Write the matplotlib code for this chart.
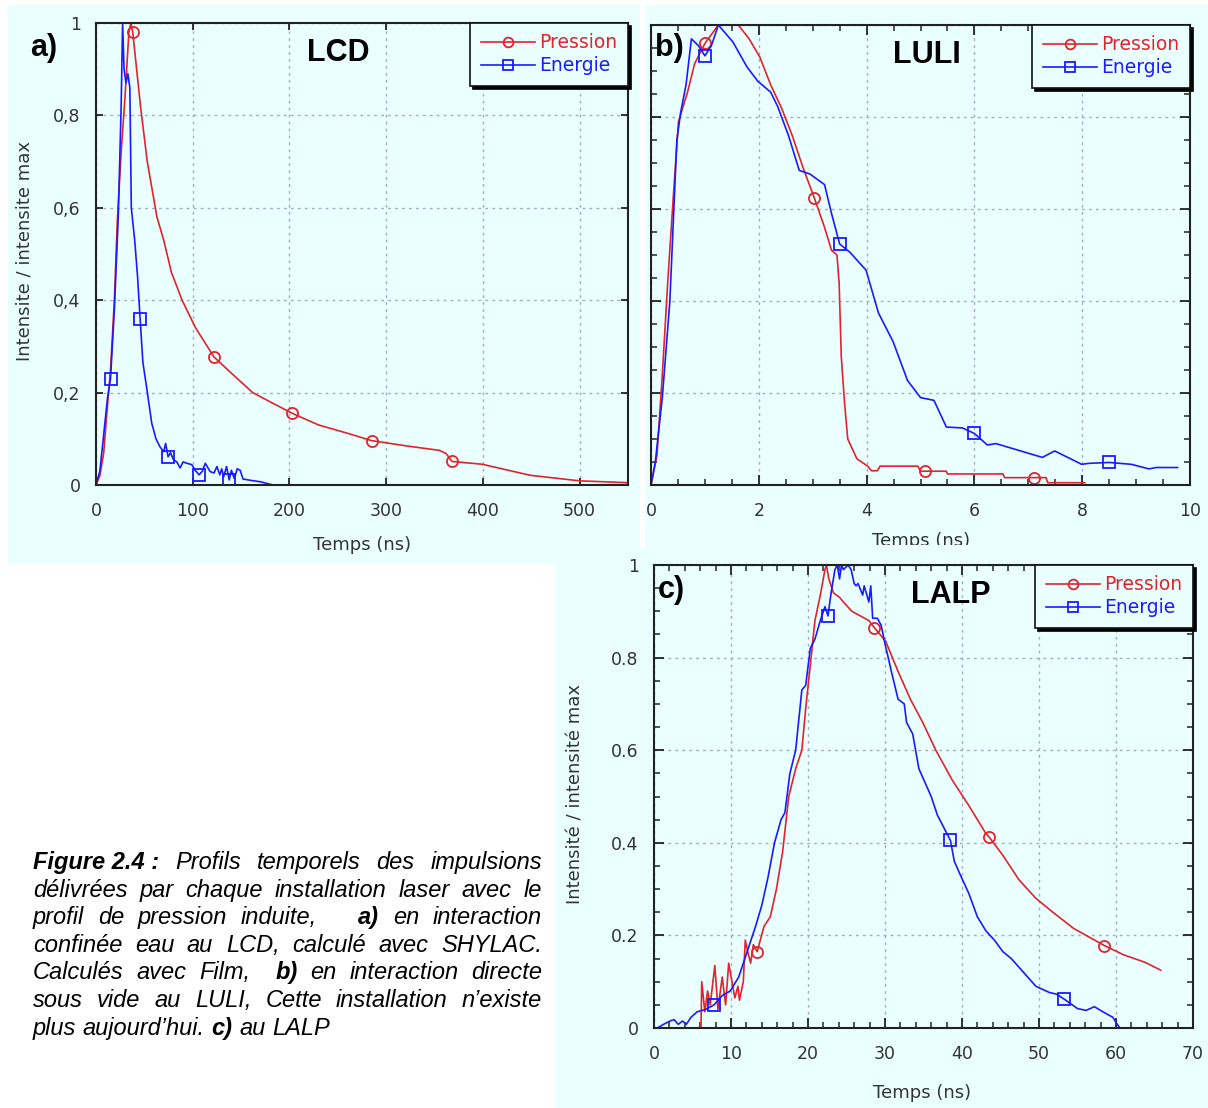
import re
import numpy as np
import matplotlib
matplotlib.use('Agg')
import matplotlib.pyplot as plt
from matplotlib.patches import Rectangle
from matplotlib.ticker import MultipleLocator, FuncFormatter
from matplotlib.transforms import Bbox, TransformedBbox

# ---- data ----
# a) LCD
a_p_t = [0, 4, 8, 11, 15, 19, 22, 26, 30, 34, 36, 38, 42, 46, 53, 63, 70, 78, 89, 103,
         122, 141, 162, 180, 203, 230, 260, 285, 323, 355, 362, 368, 399, 449, 500, 550]
a_p_v = [0, 0.02, 0.07, 0.15, 0.25, 0.4, 0.57, 0.72, 0.84, 0.98, 1.0, 0.98, 0.9, 0.82, 0.70, 0.58,
         0.53, 0.46, 0.40, 0.34, 0.277, 0.24, 0.20, 0.18, 0.155, 0.13, 0.112, 0.096, 0.084, 0.075,
         0.068, 0.051, 0.045, 0.021, 0.009, 0.005]
a_p_marks = [38, 122, 203, 285, 368]

a_e_t = [0, 4, 8, 12, 15, 19, 23, 26, 27.5, 29, 31, 33, 35, 36.5, 40, 43, 45.6, 48.5, 52.7,
         57.6, 62, 66, 70, 72, 74.5, 77, 80, 83.5, 87, 90, 94, 99, 102.5, 106.6, 110, 113, 118,
         122, 125, 128, 130, 132, 135, 137.7, 140, 143, 146, 149, 152, 160, 170, 183]
a_e_v = [0, 0.03, 0.11, 0.19, 0.23, 0.38, 0.58, 0.82, 1.0, 0.9, 0.87, 0.89, 0.86, 0.6, 0.53,
         0.45, 0.36, 0.265, 0.206, 0.134, 0.1, 0.083, 0.072, 0.09, 0.061, 0.07, 0.055, 0.05,
         0.037, 0.05, 0.047, 0.044, 0.032, 0.022, 0.03, 0.047, 0.029, 0.026, 0.04, 0.022, 0.035,
         0.018, 0.04, 0.011, 0.032, 0.014, 0.035, 0.032, 0.013, 0.01, 0.007, 0.0]
a_e_marks = [15, 45.6, 74.5, 106.6, 137.7]

# b) LULI
b_p_t = [0, 0.11, 0.21, 0.31, 0.41, 0.51, 0.68, 0.81, 1.0, 1.25, 1.62, 1.82, 2.02, 2.22, 2.42,
         2.62, 2.82, 3.03, 3.22, 3.35, 3.45, 3.49, 3.53, 3.59, 3.65, 3.82, 4.02, 4.09, 4.2, 4.25,
         4.95, 5.0, 5.08, 5.48, 5.5, 6.53, 6.56, 7.1, 7.33, 7.36, 8.05]
b_p_v = [0, 0.064, 0.24, 0.44, 0.62, 0.79, 0.855, 0.916, 0.96, 1.0, 1.0, 0.97, 0.93, 0.87, 0.82,
         0.76, 0.69, 0.624, 0.56, 0.51, 0.50, 0.44, 0.28, 0.18, 0.10, 0.057, 0.041, 0.031, 0.031,
         0.041, 0.041, 0.03, 0.03, 0.03, 0.024, 0.024, 0.016, 0.016, 0.016, 0.005, 0.005]
b_p_marks = [1.0, 3.03, 5.08, 7.1]

b_e_t = [0, 0.08, 0.21, 0.35, 0.48, 0.55, 0.65, 0.75, 0.88, 1.0, 1.12, 1.25, 1.52, 1.78, 1.98,
         2.22, 2.35, 2.55, 2.75, 2.95, 3.22, 3.35, 3.5, 3.69, 3.99, 4.22, 4.49, 4.76, 5.0, 5.25,
         5.48, 5.78, 6.0, 6.24, 6.4, 7.26, 7.49, 7.99, 8.12, 8.5, 8.91, 9.24, 9.37, 9.77]
b_e_v = [0, 0.05, 0.19, 0.40, 0.75, 0.81, 0.87, 0.97, 0.955, 0.933, 0.955, 1.0, 0.963, 0.909,
         0.878, 0.854, 0.823, 0.76, 0.684, 0.676, 0.653, 0.59, 0.524, 0.506, 0.467, 0.374, 0.312,
         0.227, 0.19, 0.184, 0.126, 0.124, 0.112, 0.087, 0.09, 0.06, 0.074, 0.045, 0.047, 0.049,
         0.045, 0.035, 0.038, 0.038]
b_e_marks = [1.0, 3.5, 6.0, 8.5]

# c) LALP
c_p_t = [6.1, 6.2, 6.6, 6.96, 7.3, 7.9, 8.3, 8.86, 9.3, 9.7, 10.5, 10.9, 11.1, 11.6, 11.85, 12.1,
         12.55, 12.9, 13.4, 14.3, 15.1, 15.9, 16.7, 17.5, 18.4, 19.2, 19.7, 20.4, 20.9, 21.6, 22.2,
         22.4, 22.7, 23.3, 24.1, 24.6, 25.7, 26.8, 27.9, 28.6, 30.1, 31.7, 33.3, 34.9, 36.6, 38.75,
         40.9, 43.1, 43.5, 45.3, 47.4, 49.6, 51.8, 54.5, 57.2, 58.5, 61.0, 63.75, 65.8]
c_p_v = [0, 0.10, 0.035, 0.08, 0.05, 0.135, 0.04, 0.11, 0.05, 0.14, 0.065, 0.09, 0.06, 0.10,
         0.19, 0.17, 0.14, 0.18, 0.165, 0.22, 0.24, 0.30, 0.38, 0.50, 0.56, 0.60, 0.69, 0.80, 0.88,
         0.935, 0.99, 1.0, 0.97, 0.94, 0.93, 0.92, 0.90, 0.89, 0.88, 0.865, 0.835, 0.77, 0.71, 0.66,
         0.60, 0.535, 0.48, 0.42, 0.413, 0.373, 0.32, 0.28, 0.25, 0.215, 0.19, 0.178, 0.158,
         0.142, 0.125]
c_p_marks = [13.4, 28.6, 43.5, 58.5]

c_e_t = [0.43, 1.25, 2.07, 2.6, 3.15, 3.7, 4.2, 4.8, 5.6, 6.7, 7.8, 8.85, 9.9, 11.0, 12.1, 13.2,
         14.0, 14.8, 15.65, 16.5, 17.0, 17.65, 18.4, 19.2, 19.7, 20.3, 20.9, 21.6, 22.2, 22.6, 23.0,
         23.5, 23.8, 24.1, 24.35, 24.6, 25.2, 25.6, 26.0, 26.25, 26.5, 27.1, 27.3, 27.9, 28.15,
         28.4, 29.0, 29.5, 30.0, 30.9, 31.7, 32.5, 32.8, 33.6, 34.4, 35.2, 36.0, 36.8, 38.5, 39.0,
         39.8, 40.9, 42.0, 43.1, 44.2, 45.3, 46.4, 48.0, 49.6, 51.3, 52.3, 53.3, 55.0, 56.1, 57.2,
         58.3, 59.6, 60.0, 60.5]
c_e_v = [0, 0.008, 0.015, 0.018, 0.008, 0.015, 0.008, 0.023, 0.035, 0.04, 0.05, 0.07, 0.08, 0.11,
         0.165, 0.22, 0.265, 0.325, 0.40, 0.45, 0.465, 0.55, 0.60, 0.73, 0.74, 0.82, 0.84, 0.88,
         0.91, 0.89, 0.94, 0.99, 1.0, 0.97, 1.0, 0.99, 1.0, 0.99, 0.96, 0.955, 0.96, 0.935, 0.955,
         0.92, 0.955, 0.885, 0.885, 0.87, 0.83, 0.765, 0.71, 0.70, 0.66, 0.635, 0.56, 0.53, 0.50,
         0.46, 0.405, 0.36, 0.33, 0.29, 0.24, 0.21, 0.19, 0.165, 0.15, 0.12, 0.09, 0.077, 0.073,
         0.062, 0.042, 0.038, 0.046, 0.035, 0.023, 0.012, 0]
c_e_marks = [7.8, 22.6, 38.5, 53.3]

CAPTION = [
    "*Figure 2.4\u00a0:* Profils temporels des impulsions",
    "délivrées par chaque installation laser avec le",
    "profil de pression induite,   *a)* en interaction",
    "confinée eau au LCD, calculé avec SHYLAC.",
    "Calculés avec Film,  *b)* en interaction directe",
    "sous vide au LULI, Cette installation n’existe",
    "plus aujourd’hui. *c)* au LALP",
]

# ---- style ----
BG = '#eaffff'
GRID = '#a3abbd'
RED = '#e3222b'
BLUE = '#1a1aff'
AX = '#222222'
TXT = '#333333'

W, H = 1208, 1108
fig = plt.figure(figsize=(W / 100, H / 100), dpi=100)
fig.patch.set_facecolor('white')


def fx(px):
    return px / W


def fy(py):
    return 1 - py / H


def axes_px(x0, y0, x1, y1):
    return fig.add_axes([fx(x0), fy(y1), fx(x1) - fx(x0), fy(y0) - fy(y1)])


# cyan panel backgrounds (behind the axes)
for x0, y0, x1, y1 in [(8, 5, 640, 563), (645, 5, 1208, 550), (556, 548, 1208, 1108)]:
    fig.patches.append(Rectangle((fx(x0), fy(y1)), fx(x1) - fx(x0), fy(y0) - fy(y1),
                                 transform=fig.transFigure, facecolor=BG,
                                 edgecolor='none', zorder=-5))


def marker_idx(t, marks):
    t = np.asarray(t)
    return [int(np.argmin(np.abs(t - m))) for m in marks]


def style(ax, xmax, xmajor, xminor=None, yminor=None, ticklen=5):
    ax.set_facecolor(BG)
    ax.set_xlim(0, xmax)
    ax.set_ylim(0, 1)
    ax.xaxis.set_major_locator(MultipleLocator(xmajor))
    ax.yaxis.set_major_locator(MultipleLocator(0.2))
    if xminor:
        ax.xaxis.set_minor_locator(MultipleLocator(xminor))
    if yminor:
        ax.yaxis.set_minor_locator(MultipleLocator(yminor))
    ax.tick_params(which='both', direction='in', top=True, right=True, color=AX,
                   labelcolor=TXT, labelsize=12.5)
    ax.tick_params(axis='x', pad=12)
    ax.tick_params(axis='y', pad=11)
    ax.tick_params(which='major', length=ticklen, width=1.3)
    ax.tick_params(which='minor', length=4, width=1.1)
    ax.grid(True, which='major', color=GRID, linestyle=(0, (2, 3)), lw=1)
    for s in ax.spines.values():
        s.set_linewidth(1.5)
        s.set_color(AX)


def make_legend(ax):
    # boxed legend in the top right corner with a hard black drop shadow
    leg = ax.legend(loc='upper right', borderaxespad=0, fontsize=13.5, numpoints=1,
                    handlelength=2.9, handletextpad=0.25, labelcolor='linecolor',
                    frameon=True, fancybox=False, edgecolor='#111111', facecolor=BG,
                    framealpha=1, borderpad=0.55, labelspacing=0.22,
                    shadow={'facecolor': 'black', 'edgecolor': 'black', 'alpha': 1})
    leg.get_frame().set_linewidth(1.2)
    for h in leg.legend_handles:
        h.set_markersize(7)


def draw(ax, pt, pv, pm, et, ev, em):
    ax.plot(pt, pv, color=RED, lw=1.2, marker='o', ms=8, mfc='none', mew=1.3,
            markevery=marker_idx(pt, pm), label='Pression')
    ax.plot(et, ev, color=BLUE, lw=1.2, marker='s', ms=8, mfc='none', mew=1.3,
            markevery=marker_idx(et, em), label='Energie')
    make_legend(ax)


comma = FuncFormatter(lambda v, p: '0' if abs(v) < 1e-9 else ('1' if abs(v - 1) < 1e-9
                                                            else f'{v:.1f}'.replace('.', ',')))
dot = FuncFormatter(lambda v, p: '0' if abs(v) < 1e-9 else ('1' if abs(v - 1) < 1e-9
                                                          else f'{v:.1f}'))

# a) LCD
ax_a = axes_px(96, 23, 628, 485)
style(ax_a, 550, 100)
ax_a.yaxis.set_major_formatter(comma)
draw(ax_a, a_p_t, a_p_v, a_p_marks, a_e_t, a_e_v, a_e_marks)

# b) LULI
ax_b = axes_px(651, 25, 1190, 485)
style(ax_b, 10, 2, xminor=0.5, yminor=0.05, ticklen=7)
ax_b.tick_params(labelleft=False)
draw(ax_b, b_p_t, b_p_v, b_p_marks, b_e_t, b_e_v, b_e_marks)

# c) LALP
ax_c = axes_px(654, 565, 1193, 1028)
style(ax_c, 70, 10, xminor=2, yminor=0.05, ticklen=7)
ax_c.yaxis.set_major_formatter(dot)
draw(ax_c, c_p_t, c_p_v, c_p_marks, c_e_t, c_e_v, c_e_marks)

# axis labels
lab = dict(fontsize=13, color=TXT, family='DejaVu Sans', ha='center', va='center')
fig.text(fx(362), fy(545), 'Temps (ns)', **lab)
fig.text(fx(25), fy(251), 'Intensite / intensite max', rotation=90, **lab)
tb = fig.text(fx(921), fy(541), 'Temps (ns)', **lab)
# panel b's x label is cut off in the original
tb.set_clip_box(TransformedBbox(Bbox.from_extents(0, fy(545), 1, 1), fig.transFigure))
tb.set_clip_on(True)
fig.text(fx(922), fy(1093), 'Temps (ns)', **lab)
fig.text(fx(575), fy(794), 'Intensité / intensité max', rotation=90, **lab)

# panel tags and titles
bold = dict(fontsize=22, weight='bold', family='Liberation Sans', color='black', va='center')
fig.text(fx(30), fy(48), 'a)', **bold)
fig.text(fx(338), fy(53), 'LCD', ha='center', **bold)
fig.text(fx(655), fy(48), 'b)', **bold)
fig.text(fx(927), fy(55), 'LULI', ha='center', **bold)
fig.text(fx(658), fy(590), 'c)', **bold)
fig.text(fx(951), fy(595), 'LALP', ha='center', **bold)

# justified caption
renderer = fig.canvas.get_renderer()
cap_fs = 17
cap_x0, cap_x1 = 33, 542
space_px = 0.278 * cap_fs * 100 / 72
for i, line in enumerate(CAPTION):
    words = re.findall(r'( *)([^ ]+)', line)
    toks = []
    buf = None
    for sp, w in words:
        if buf is not None:
            buf[1] += sp + w
            if w.endswith('*'):
                toks.append((buf[0], buf[1].strip('*'), True))
                buf = None
            continue
        if w.startswith('*') and not w.endswith('*'):
            buf = [len(sp), w]
            continue
        if w.startswith('*') and w.endswith('*'):
            toks.append((len(sp), w.strip('*'), True))
        else:
            toks.append((len(sp), w, False))
    arts, widths, gaps = [], [], []
    y = fy(869 + i * 27.6)
    for nsp, w, b in toks:
        t = fig.text(0, y, w, fontsize=cap_fs, family='Liberation Sans', style='italic',
                     weight='bold' if b else 'normal', color='black', va='baseline', ha='left')
        arts.append(t)
        widths.append(t.get_window_extent(renderer).width)
        gaps.append(nsp)
    gaps[0] = 0
    if i == len(CAPTION) - 1:
        unit = space_px
    else:
        unit = (cap_x1 - cap_x0 - sum(widths)) / max(sum(gaps), 1)
    x = cap_x0
    for t, w, g in zip(arts, widths, gaps):
        x += g * unit
        t.set_x(fx(x))
        x += w

fig.savefig('out.png', dpi=100, facecolor='white')
